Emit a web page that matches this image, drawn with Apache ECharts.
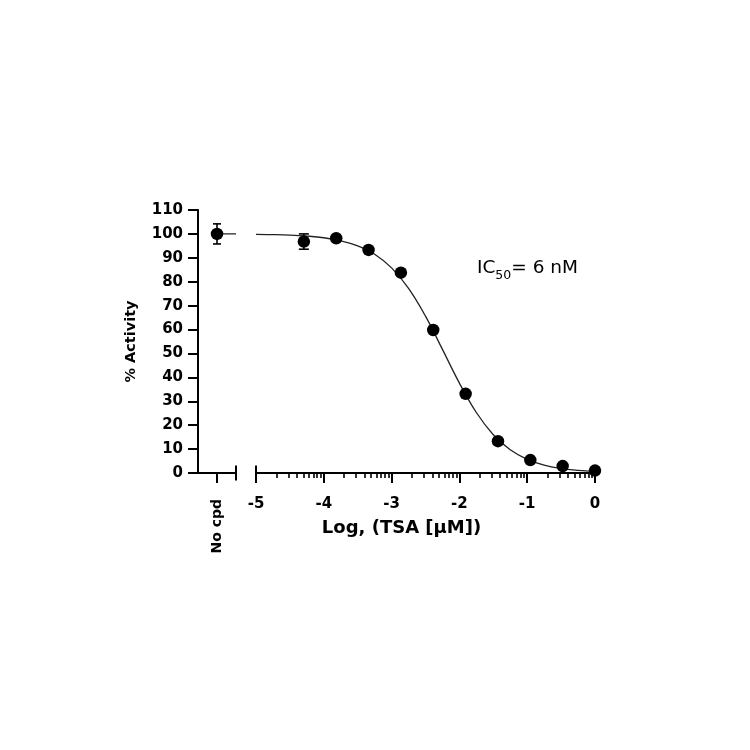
<!DOCTYPE html>
<html>
<head>
<meta charset="utf-8">
<script src="https://cdn.jsdelivr.net/npm/echarts@6/dist/echarts.min.js"></script>
<style>html,body{margin:0;padding:0;background:#fff}#c{width:750px;height:750px}</style>
</head>
<body>
<div id="c"></div>
<script>
// ---- data ----
const logConc = [-4.294, -3.817, -3.340, -2.863, -2.386, -1.908, -1.431, -0.954, -0.477, 0];
const activity = [96.8, 98.2, 93.3, 83.8, 59.8, 33.1, 13.3, 5.4, 2.9, 1.0];
const activityErr = [3.2, 0, 0, 0, 0, 0, 0, 0, 0, 0];

const noCpdValue = 100;
const noCpdErr = 4.2;

// fitted curve
const curveX = [-5, -4.75, -4.5, -4.25, -4, -3.75, -3.5, -3.25, -3, -2.75, -2.5, -2.25, -2, -1.75, -1.5, -1.25, -1, -0.75, -0.5, -0.25, 0];
const curveY = [99.8, 99.7, 99.5, 99.1, 98.4, 97.1, 95.0, 91.5, 85.8, 77.2, 65.6, 51.7, 37.6, 25.3, 16.0, 9.7, 5.7, 3.3, 1.9, 1.1, 0.6];

const yTicks = [0, 10, 20, 30, 40, 50, 60, 70, 80, 90, 100, 110];
const xMajorTicks = [-5, -4, -3, -2, -1, 0];
const xMinorTicks = [];
for (let d = -5; d < 0; d++) for (let k = 2; k <= 9; k++) xMinorTicks.push(d + Math.log10(k));

const xTitle = 'Log, (TSA [µM])';
const yTitle = '% Activity';
const noCpdLabel = 'No cpd';

// ---- chart ----
const FONT = 'DejaVu Sans';
const chart = echarts.init(document.getElementById('c'), null, {renderer: 'canvas'});

function errRender(capHalf) {
  return function (params, api) {
    const x = api.value(0), lo = api.value(1), hi = api.value(2);
    if (hi - lo <= 0) return null;
    const t = api.coord([x, hi]), b = api.coord([x, lo]);
    const st = {stroke: '#000', lineWidth: 1.6};
    return {type: 'group', children: [
      {type: 'line', shape: {x1: t[0], y1: t[1], x2: b[0], y2: b[1]}, style: st},
      {type: 'line', shape: {x1: t[0] - capHalf, y1: t[1], x2: t[0] + capHalf, y2: t[1]}, style: st},
      {type: 'line', shape: {x1: b[0] - capHalf, y1: b[1], x2: b[0] + capHalf, y2: b[1]}, style: st}
    ]};
  };
}

const option = {
  animation: false,
  backgroundColor: '#fff',
  grid: [
    {left: 198, top: 210, width: 38, height: 263},
    {left: 256, top: 210, width: 339, height: 263}
  ],
  xAxis: [
    { // No cpd segment
      gridIndex: 0, type: 'value', min: 0, max: 2, position: 'bottom',
      axisLine: {show: true, onZero: false, symbol: ['none', 'rect'], symbolSize: [15, 2], lineStyle: {color: '#000', width: 2}},
      axisTick: {show: true, length: 10, lineStyle: {color: '#000', width: 2}, customValues: [1]},
      axisLabel: {show: true, customValues: [1], formatter: () => noCpdLabel, rotate: 90, margin: 26,
        fontFamily: FONT, fontWeight: 'bold', fontSize: 14, color: '#000'},
      splitLine: {show: false}
    },
    { // main log axis, major ticks
      gridIndex: 1, type: 'value', min: -5, max: 0, interval: 1, position: 'bottom',
      axisLine: {show: true, onZero: false, symbol: ['rect', 'none'], symbolSize: [15, 2], lineStyle: {color: '#000', width: 2}},
      axisTick: {show: true, length: 10, lineStyle: {color: '#000', width: 2}, customValues: xMajorTicks},
      axisLabel: {show: true, customValues: xMajorTicks, margin: 24, fontFamily: FONT, fontWeight: 'bold', fontSize: 15, color: '#000'},
      splitLine: {show: false},
      name: xTitle, nameLocation: 'middle', nameGap: 46,
      nameTextStyle: {fontFamily: FONT, fontWeight: 'bold', fontSize: 18, color: '#000', padding: [0, 48, 0, 0]}
    },
    { // main log axis, minor ticks
      gridIndex: 1, type: 'value', min: -5, max: 0, position: 'bottom',
      axisLine: {show: false, onZero: false},
      axisTick: {show: true, length: 5, lineStyle: {color: '#000', width: 1.6}, customValues: xMinorTicks},
      axisLabel: {show: false},
      splitLine: {show: false}
    }
  ],
  yAxis: [
    {
      gridIndex: 0, type: 'value', min: 0, max: 110, interval: 10,
      axisLine: {show: true, lineStyle: {color: '#000', width: 2}},
      axisTick: {show: true, length: 10, lineStyle: {color: '#000', width: 2}},
      axisLabel: {margin: 15, fontFamily: FONT, fontWeight: 'bold', fontSize: 15, color: '#000'},
      splitLine: {show: false},
      name: yTitle, nameLocation: 'middle', nameGap: 59, nameRotate: 90,
      nameTextStyle: {fontFamily: FONT, fontWeight: 'bold', fontSize: 14.5, color: '#000'}
    },
    {
      gridIndex: 1, type: 'value', min: 0, max: 110, interval: 10,
      axisLine: {show: false}, axisTick: {show: false}, axisLabel: {show: false}, splitLine: {show: false}
    }
  ],
  series: [
    { // No cpd connecting line
      type: 'line', xAxisIndex: 0, yAxisIndex: 0,
      data: [[1, noCpdValue], [2, noCpdValue]],
      showSymbol: false, lineStyle: {color: '#222', width: 1.3}, z: 2, silent: true
    },
    {
      type: 'custom', xAxisIndex: 0, yAxisIndex: 0, renderItem: errRender(4),
      encode: {x: 0, y: [1, 2]},
      data: [[1, noCpdValue - noCpdErr, noCpdValue + noCpdErr]], z: 3
    },
    {
      type: 'scatter', xAxisIndex: 0, yAxisIndex: 0, symbol: 'circle', symbolSize: 12.5,
      itemStyle: {color: '#000', opacity: 1}, data: [[1, noCpdValue]], z: 4
    },
    { // fitted curve
      type: 'line', xAxisIndex: 1, yAxisIndex: 1,
      data: curveX.map((x, i) => [x, curveY[i]]),
      smooth: 0.4, showSymbol: false, lineStyle: {color: '#222', width: 1.3}, z: 2, silent: true
    },
    {
      type: 'custom', xAxisIndex: 1, yAxisIndex: 1, renderItem: errRender(5),
      encode: {x: 0, y: [1, 2]},
      data: logConc.map((x, i) => [x, activity[i] - activityErr[i], activity[i] + activityErr[i]]), z: 3
    },
    {
      type: 'scatter', xAxisIndex: 1, yAxisIndex: 1, symbol: 'circle', symbolSize: 12.5,
      itemStyle: {color: '#000', opacity: 1}, data: logConc.map((x, i) => [x, activity[i]]), z: 4
    }
  ],
  graphic: [
    {
      type: 'text', left: 477, top: 259,
      style: {
        text: '{a|IC}{s|50}{a|= 6 nM}',
        rich: {
          a: {fontFamily: FONT, fontSize: 18.5, color: '#000', verticalAlign: 'bottom', lineHeight: 24, padding: [0, 0, 4, 0]},
          s: {fontFamily: FONT, fontSize: 12.5, color: '#000', verticalAlign: 'bottom', lineHeight: 18}
        }
      }
    }
  ]
};
chart.setOption(option);
</script>
</body>
</html>
